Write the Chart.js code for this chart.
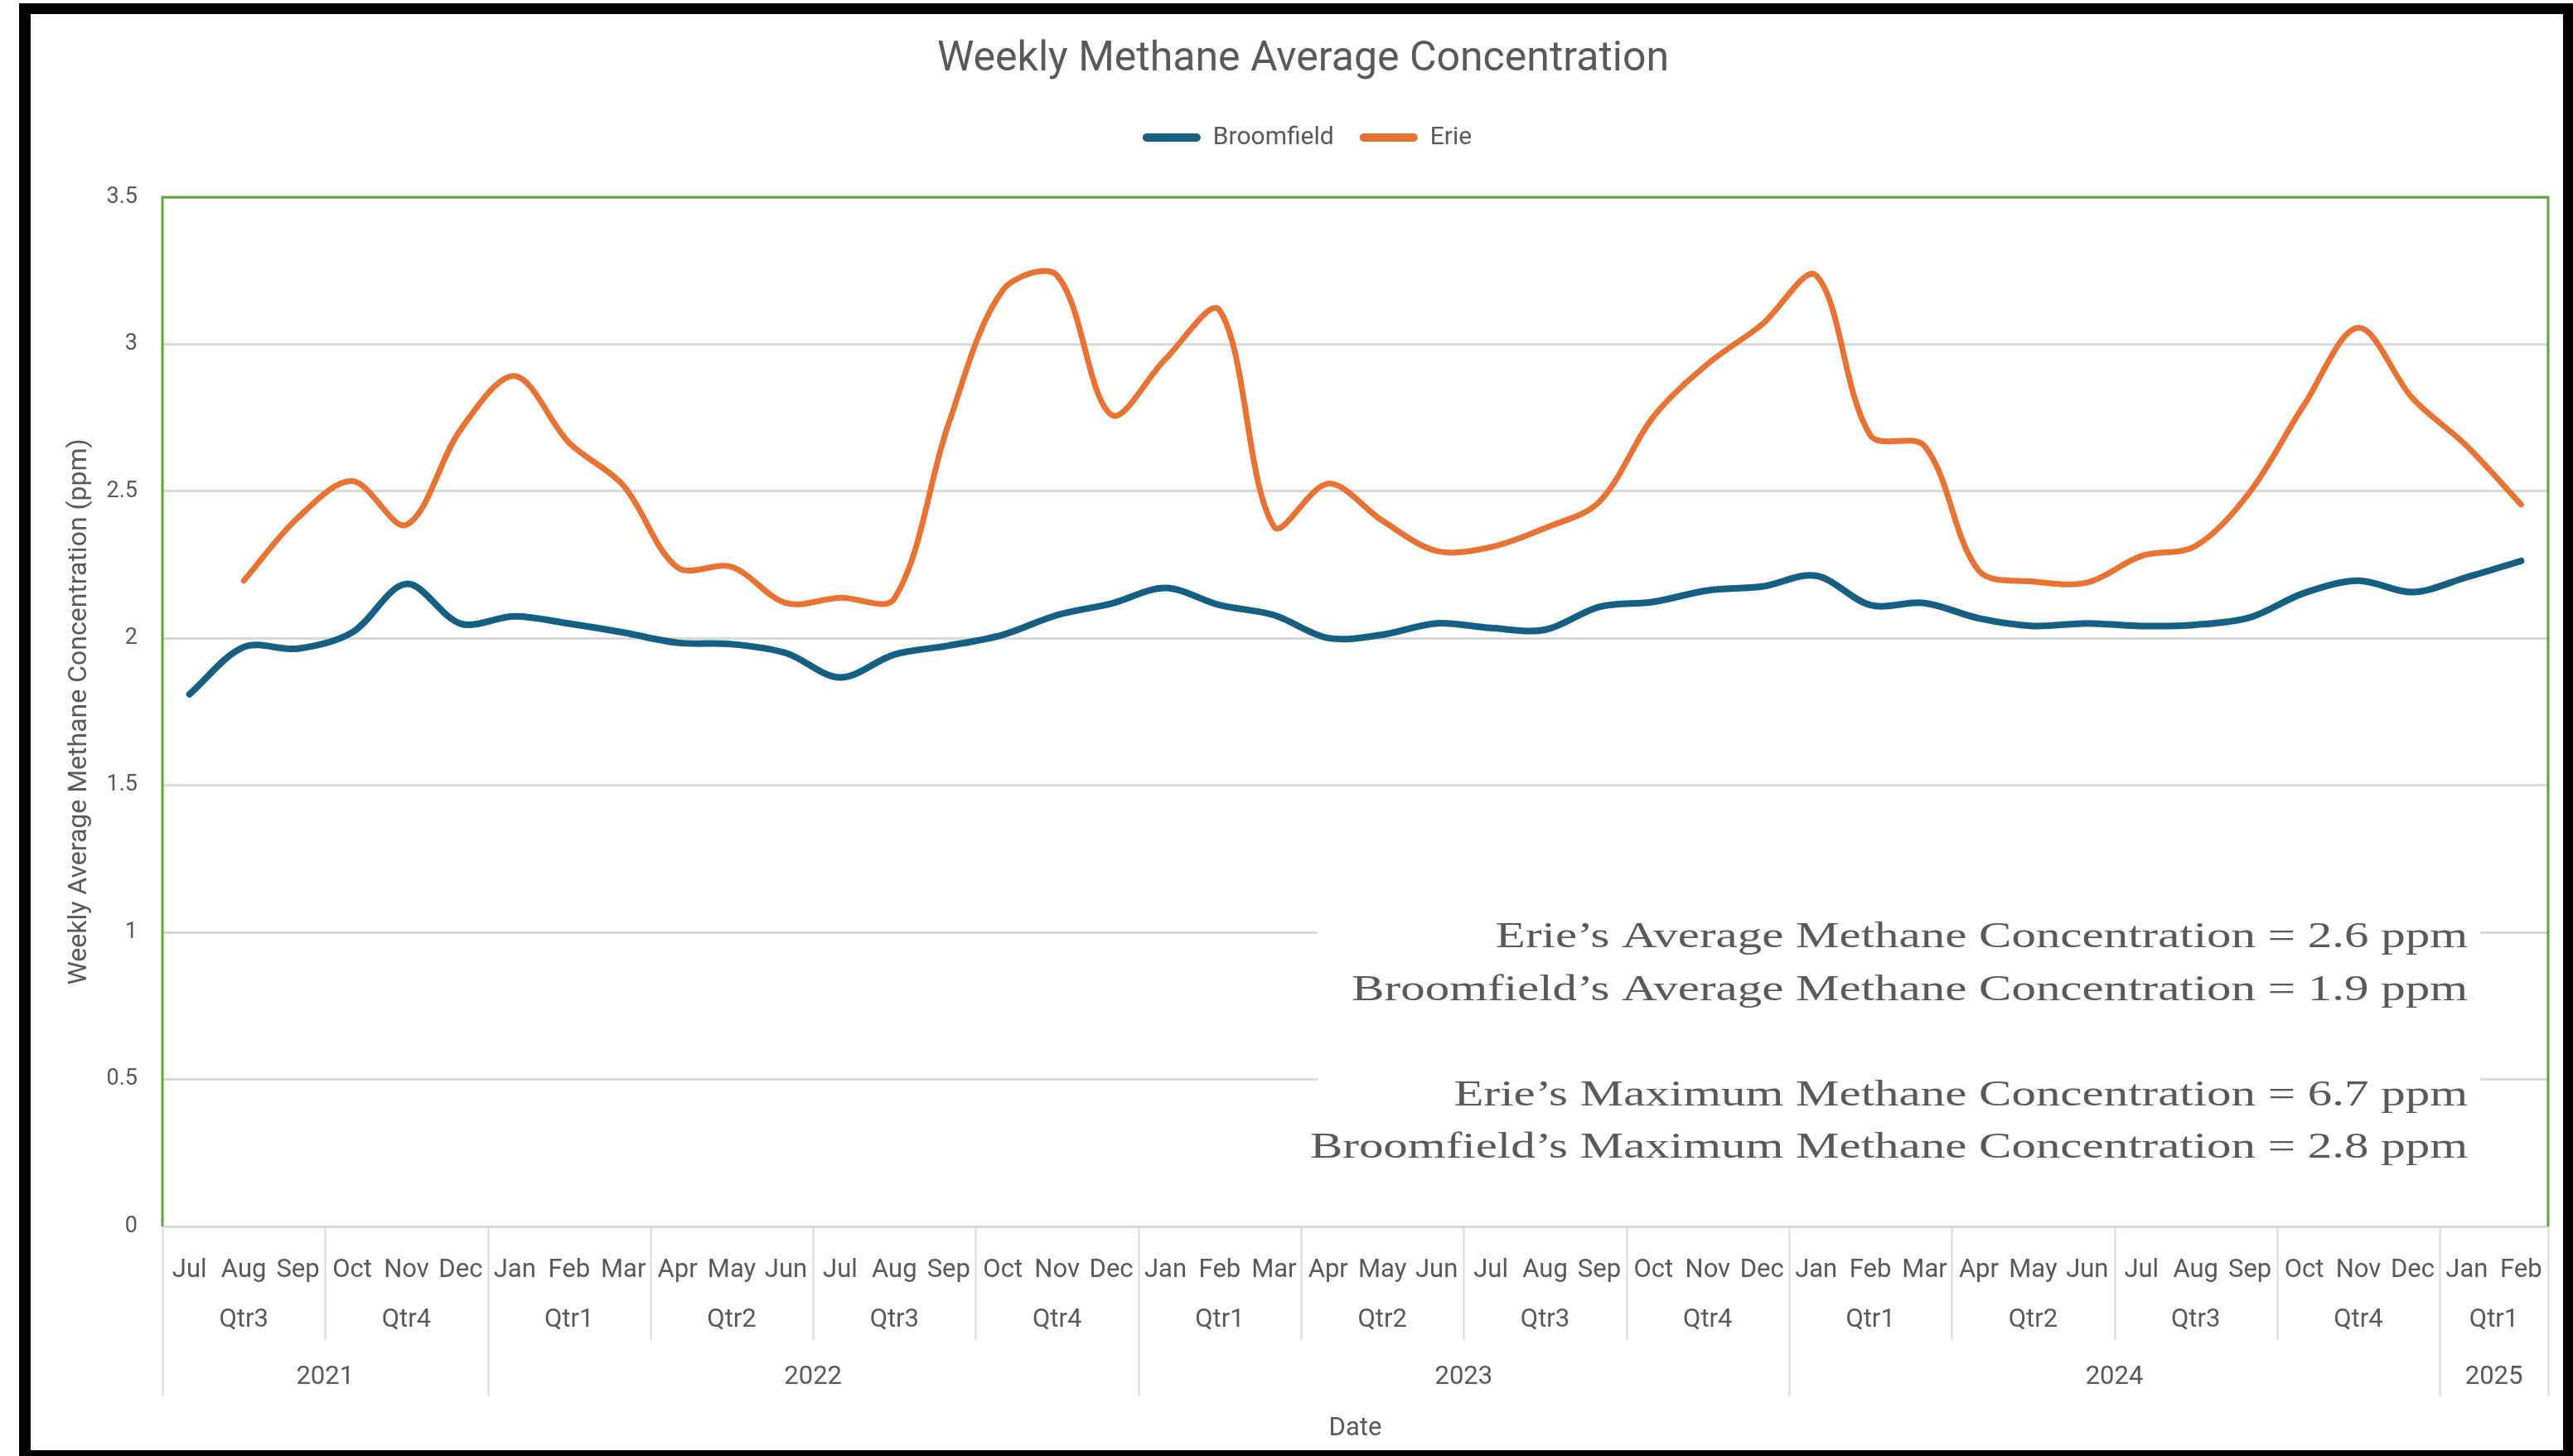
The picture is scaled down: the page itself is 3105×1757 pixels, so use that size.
<!DOCTYPE html>
<html>
<head>
<meta charset="utf-8">
<script src="https://cdn.jsdelivr.net/npm/chart.js@4.4.0/dist/chart.umd.min.js"></script>
<style>
html,body{margin:0;padding:0;background:#fff;overflow:hidden}
canvas{display:block}
</style>
</head>
<body>
<canvas id="c" width="3105" height="1757"></canvas>
<script>
// ---------- DATA ----------
const monthLabels = [
  'Jul','Aug','Sep','Oct','Nov','Dec',
  'Jan','Feb','Mar','Apr','May','Jun','Jul','Aug','Sep','Oct','Nov','Dec',
  'Jan','Feb','Mar','Apr','May','Jun','Jul','Aug','Sep','Oct','Nov','Dec',
  'Jan','Feb','Mar','Apr','May','Jun','Jul','Aug','Sep','Oct','Nov','Dec',
  'Jan','Feb'
];
const quarterLabels = [
  'Qtr3','Qtr3','Qtr3','Qtr4','Qtr4','Qtr4',
  'Qtr1','Qtr1','Qtr1','Qtr2','Qtr2','Qtr2','Qtr3','Qtr3','Qtr3','Qtr4','Qtr4','Qtr4',
  'Qtr1','Qtr1','Qtr1','Qtr2','Qtr2','Qtr2','Qtr3','Qtr3','Qtr3','Qtr4','Qtr4','Qtr4',
  'Qtr1','Qtr1','Qtr1','Qtr2','Qtr2','Qtr2','Qtr3','Qtr3','Qtr3','Qtr4','Qtr4','Qtr4',
  'Qtr1','Qtr1'
];
const yearLabels = [
  '2021','2021','2021','2021','2021','2021',
  '2022','2022','2022','2022','2022','2022','2022','2022','2022','2022','2022','2022',
  '2023','2023','2023','2023','2023','2023','2023','2023','2023','2023','2023','2023',
  '2024','2024','2024','2024','2024','2024','2024','2024','2024','2024','2024','2024',
  '2025','2025'
];
const broomfield = [
  1.81, 1.97, 1.965, 2.02, 2.185, 2.05,
  2.075, 2.05, 2.02, 1.985, 1.98, 1.95, 1.867, 1.945, 1.975, 2.012, 2.079, 2.118,
  2.171, 2.113, 2.079, 2.001, 2.012, 2.051, 2.035, 2.029, 2.107, 2.124, 2.163, 2.176,
  2.213, 2.113, 2.12, 2.068, 2.042, 2.051, 2.042, 2.046, 2.071, 2.154, 2.196, 2.157,
  2.208, 2.263
];
const erie = [
  null, 2.196, 2.41, 2.535, 2.386, 2.71,
  2.892, 2.665, 2.52, 2.241, 2.243, 2.12, 2.138, 2.135, 2.73, 3.184, 3.234, 2.76,
  2.95, 3.115, 2.38, 2.526, 2.40, 2.297, 2.31, 2.375, 2.464, 2.754, 2.933, 3.067,
  3.234, 2.69, 2.654, 2.23, 2.193, 2.19, 2.28, 2.314, 2.498, 2.794, 3.056, 2.816,
  2.654, 2.455
];
const noteLines = [
  'Erie\u2019s Average Methane Concentration = 2.6 ppm',
  'Broomfield\u2019s Average Methane Concentration = 1.9 ppm',
  '',
  'Erie\u2019s Maximum Methane Concentration = 6.7 ppm',
  'Broomfield\u2019s Maximum Methane Concentration = 2.8 ppm'
];

// ---------- STYLE ----------
const GRAY_TEXT = '#595959';
const GRID = '#d9d9d9';
const SANS = 'Roboto';
Chart.defaults.font.family = SANS;
Chart.defaults.color = GRAY_TEXT;

const decor = {
  id: 'decor',
  afterLayout(chart) {
    // nudge the title and legend blocks to the reference's horizontal position
    if (chart.titleBlock) { chart.titleBlock.left += 15; chart.titleBlock.right += 15; }
    if (chart.legend) { chart.legend.left += 20; chart.legend.right += 20; }
  },
  beforeDraw(chart) {
    const c = chart.ctx;
    c.save();
    c.fillStyle = '#fff';
    c.fillRect(0, 0, chart.width, chart.height);
    c.restore();
  },
  beforeDatasetsDraw(chart) {
    const c = chart.ctx;
    const a = chart.chartArea;
    c.save();
    // annotation text box
    c.fillStyle = '#fff';
    c.fillRect(1590, 1075, 1403, 365);
    c.fillStyle = GRAY_TEXT;
    c.font = '45px "Liberation Serif"';
    c.textAlign = 'right';
    c.textBaseline = 'alphabetic';
    noteLines.forEach((t, k) => {
      if (!t) return;
      c.save();
      c.translate(2978, 1143 + k * 63.5);
      c.scale(1.31, 1);
      c.fillText(t, 0, 0);
      c.restore();
    });
    // green plot-area border (top / left / right)
    c.strokeStyle = '#5BA63B';
    c.lineWidth = 3;
    c.beginPath();
    c.moveTo(a.left, a.bottom);
    c.lineTo(a.left, a.top);
    c.lineTo(a.right, a.top);
    c.lineTo(a.right, a.bottom);
    c.stroke();
    c.restore();
  },
  afterDraw(chart) {
    const c = chart.ctx;
    const xs = chart.scales.x;
    const n = monthLabels.length;
    const step = xs.getPixelForValue(1) - xs.getPixelForValue(0);
    const edge = i => xs.getPixelForValue(i) - step / 2;
    const top = xs.top;
    const qLineEnd = top + 137, yLineEnd = top + 205;
    const qY = top + 113, yY = top + 182;
    c.save();
    c.strokeStyle = GRID;
    c.lineWidth = 2;
    c.fillStyle = GRAY_TEXT;
    c.font = '31px ' + SANS;
    c.textAlign = 'center';
    c.textBaseline = 'middle';
    // separators
    for (let i = 0; i <= n; i++) {
      const yearBreak = i === 0 || i === n || yearLabels[i] !== yearLabels[i - 1];
      const qBreak = yearBreak || quarterLabels[i] !== quarterLabels[i - 1];
      if (!qBreak) continue;
      const x = Math.round(edge(i)) + 0.5;
      c.beginPath();
      c.moveTo(x, top);
      c.lineTo(x, yearBreak ? yLineEnd : qLineEnd);
      c.stroke();
    }
    // group labels
    const groups = (keyFn, labelFn, y) => {
      let s = 0;
      for (let i = 1; i <= n; i++) {
        if (i === n || keyFn(i) !== keyFn(s)) {
          c.fillText(labelFn(s), (edge(s) + edge(i)) / 2, y);
          s = i;
        }
      }
    };
    groups(i => yearLabels[i] + quarterLabels[i], i => quarterLabels[i], qY);
    groups(i => yearLabels[i], i => yearLabels[i], yY);
    // black outer frame
    c.fillStyle = '#000';
    c.fillRect(23, 4, 3105 - 23, 13);
    c.fillRect(23, 4, 14, 1757 - 4);
    c.fillRect(3093, 4, 12, 1757 - 4);
    c.fillRect(23, 1750, 3105 - 23, 7);
    c.restore();
  }
};

new Chart(document.getElementById('c'), {
  type: 'line',
  data: {
    labels: monthLabels,
    datasets: [
      { label: 'Broomfield', data: broomfield, borderColor: '#156082', backgroundColor: '#156082',
        borderWidth: 8, pointRadius: 0, tension: 0.33, borderCapStyle: 'round', borderJoinStyle: 'round' },
      { label: 'Erie', data: erie, borderColor: '#E97132', backgroundColor: '#E97132',
        borderWidth: 7, pointRadius: 0, tension: 0.33, borderCapStyle: 'round', borderJoinStyle: 'round' }
    ]
  },
  options: {
    responsive: false,
    animation: false,
    devicePixelRatio: 1,
    layout: { padding: { left: 40, right: 30, top: 17, bottom: 10 } },
    plugins: {
      title: {
        display: true, text: 'Weekly Methane Average Concentration', color: GRAY_TEXT,
        font: { size: 50, weight: 'normal' }, padding: { top: 25, bottom: 18 }
      },
      subtitle: {
        display: true, text: ' ', weight: 500, font: { size: 10 }, padding: { top: 0, bottom: 35 }
      },
      legend: {
        position: 'top',
        labels: {
          boxWidth: 70, boxHeight: 10, padding: 31, color: GRAY_TEXT, font: { size: 30 },
          useBorderRadius: true, borderRadius: 5,
          generateLabels(chart) {
            return chart.data.datasets.map((ds, i) => ({
              text: ds.label, fillStyle: ds.borderColor, strokeStyle: ds.borderColor,
              lineWidth: 0, hidden: false, datasetIndex: i, borderRadius: 5, fontColor: GRAY_TEXT
            }));
          }
        }
      },
      tooltip: { enabled: false }
    },
    scales: {
      x: {
        offset: true,
        grid: { display: false },
        border: { display: false },
        ticks: { autoSkip: false, maxRotation: 0, minRotation: 0, padding: 27, color: GRAY_TEXT, font: { size: 31 } },
        title: { display: true, text: 'Date', color: GRAY_TEXT, font: { size: 31 }, padding: { top: 0, bottom: 4 } },
        afterFit(s) { s.height = 267; }
      },
      y: {
        min: 0, max: 3.5,
        ticks: { stepSize: 0.5, padding: 30, color: GRAY_TEXT, font: { size: 27 }, callback: v => String(v) },
        grid: { color: GRID, lineWidth: 3, drawTicks: false },
        border: { display: false },
        title: { display: true, text: 'Weekly Average Methane Concentration (ppm)', color: GRAY_TEXT,
                 font: { size: 32 }, padding: { top: 37, bottom: 0 } },
        afterFit(s) { s.width = 156; }
      }
    }
  },
  plugins: [decor]
});
</script>
</body>
</html>
